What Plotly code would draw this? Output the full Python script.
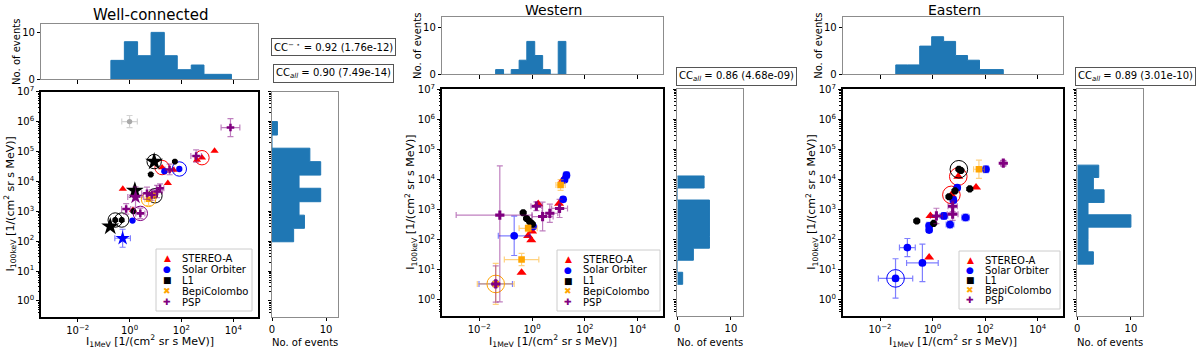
import plotly.graph_objects as go

W, H = 1200, 354
FONT = "DejaVu Sans"
RED, BLUE, BLACK, ORANGE, PURPLE, GREY = "#ff0000", "#0000ff", "#000000", "#ffa500", "#800080", "#a9a9a9"
HIST = "#1f77b4"

# ---------------- Well-connected ----------------
WC_STA_X = [1.9e3, 6.2e2, 4.0e2, 18, 50, 30, 0.55, 1.35]
WC_STA_Y = [1.05e5, 6.2e4, 5.2e4, 2.9e4, 2.4e4, 8.7e3, 5.6e3, 1.1e3]
WC_STA_RING = [0, 1, 0, 1, 0, 0, 0, 0]

WC_SOLO_X = [83, 22, 1.3, 0.54]
WC_SOLO_Y = [2.6e4, 2.2e4, 4.9e2, 1.25e2]
WC_SOLO_EX = [None, None, None, 2.0]
WC_SOLO_EY = [None, None, None, 2.0]
WC_SOLO_RING = [1, 0, 0, 0]
WC_SOLO_STAR = [0, 0, 0, 1]

WC_L1_X = [8.9, 56, 6.6, 1.6, 1.4, 0.28, 0.5, 0.18, 9.5]
WC_L1_Y = [4.6e4, 4.6e4, 1.7e4, 4.9e3, 1.0e3, 5.1e2, 5.1e2, 3.1e2, 3.3e3]
WC_L1_RING = [1, 0, 0, 0, 0, 1, 1, 0, 1]
WC_L1_STAR = [1, 0, 0, 1, 0, 0, 0, 1, 0]

WC_BEPI_X = [5.4, 8.5]
WC_BEPI_Y = [2.5e3, 3.5e3]
WC_BEPI_EX = [1.4, 1.3]
WC_BEPI_EY = [1.6, 1.3]
WC_BEPI_RING = [1, 0]

WC_PSP_X = [7.8e3, 3.7e2, 35, 1.7, 4.7, 11.5, 15, 0.74, 2.6, 7.2]
WC_PSP_Y = [6.3e5, 7.1e4, 2.5e4, 3.0e3, 4.0e3, 4.6e3, 5.9e3, 1.2e3, 8.5e2, 3.5e3]
WC_PSP_EX = [2.3, 1.6, 1.5, 2.0, 1.6, 1.6, 1.4, 1.5, 1.5, 1.5]
WC_PSP_EY = [2.0, 1.6, 1.5, 2.2, 1.6, 1.6, 1.4, 1.5, 1.5, 1.5]
WC_PSP_RING = [0, 0, 0, 0, 0, 0, 0, 0, 1, 0]
WC_PSP_STAR = [0, 0, 0, 1, 0, 0, 0, 0, 0, 0]

WC_GREY_X = [1.0]
WC_GREY_Y = [1.0e6]
WC_GREY_EX = [2.0]
WC_GREY_EY = [1.6]

WC_HX_LOGEDGES = [-0.72, -0.2, 0.31, 0.83, 1.34, 1.84, 2.38, 2.87, 3.41, 3.93]
WC_HX_COUNTS = [4, 8, 5, 10, 5, 2, 3, 1, 1]
WC_HY_LOGEDGES = [1.98, 2.43, 2.87, 3.32, 3.77, 4.21, 4.66, 5.11, 5.55, 6.0]
WC_HY_COUNTS = [4, 6, 5, 9, 5, 9, 7, 0, 1]

# ---------------- Western ----------------
WE_STA_X = [0.4, 0.71, 0.93, 1.0, 1.7, 10.5, 15]
WE_STA_Y = [8.1, 1.35e2, 98, 1.9e2, 1.55e3, 1.6e3, 1.0e4]

WE_SOLO_X = [0.21, 1.1, 15, 20, 17, 0.042]
WE_SOLO_Y = [1.35e2, 2.75e2, 2.2e3, 1.4e4, 9.8e3, 3.4]
WE_SOLO_EX = [4.0, None, 1.2, 1.3, None, 4.3]
WE_SOLO_EY = [4.5, None, 1.2, 1.3, None, 1.0]

WE_L1_X = [0.46, 0.62, 0.81, 1.02]
WE_L1_Y = [7.9e2, 5.1e2, 4.0e2, 3.3e2]

WE_BEPI_X = [0.042, 0.4, 0.71, 12]
WE_BEPI_Y = [3.4, 22, 2.4e2, 6.6e3]
WE_BEPI_EX = [5.0, 4.5, 2.2, 1.5]
WE_BEPI_EY = [4.8, 1.6, 1.3, 1.5]
WE_BEPI_RING = [1, 0, 0, 0]

WE_PSP_X = [0.06, 0.042, 1.45, 2.5, 4.7, 11]
WE_PSP_Y = [6.6e2, 3.4, 1.3e3, 5.9e2, 7.6e2, 1.1e3]
WE_PSP_EX = [(45, 16.6), 1.0, 1.6, 2.5, 2.0, 2.0]
WE_PSP_EY = [(760, 43), 4.0, 1.4, 3.0, 2.0, 2.0]

WE_HX_LOGEDGES = [-1.38, -1.08, -0.79, -0.49, -0.2, 0.10, 0.40, 0.69, 0.99, 1.28]
WE_HX_COUNTS = [1, 0, 1, 3, 7, 4, 1, 0, 7]
WE_HY_LOGEDGES = [0.52, 0.92, 1.32, 1.72, 2.12, 2.52, 2.92, 3.32, 3.72, 4.12]
WE_HY_COUNTS = [1, 0, 3, 6, 6, 6, 6, 0, 5]

# ---------------- Eastern ----------------
EA_STA_X = [0.74, 0.83, 5.2, 9.5, 45]
EA_STA_Y = [26, 6.2e2, 3.1e3, 1.26e4, 5.5e3]
EA_STA_RING = [0, 0, 1, 1, 0]

EA_SOLO_X = [0.039, 0.11, 0.41, 0.74, 0.74, 2.7, 4.6, 6.2, 18, 8.7, 107]
EA_SOLO_Y = [5.2, 55, 17, 2.9e2, 2.1e2, 6.2e2, 3.2e2, 2.1e3, 5.5e2, 5.4e3, 2.2e4]
EA_SOLO_EX = [4.5, 2.0, 4.0, 1.3, 1.2, 1.4, 1.4, 1.3, 1.4, 1.2, 1.3]
EA_SOLO_EY = [4.5, 2.0, 4.2, 1.3, 1.2, 1.3, 1.3, 1.3, 1.3, 1.2, 1.3]
EA_SOLO_RING = [1, 0, 0, 0, 0, 0, 0, 0, 0, 0, 0]

EA_L1_X = [0.25, 1.1, 4.2, 7.1, 10, 12, 26]
EA_L1_Y = [4.2e2, 3.5e2, 2.7e3, 4.2e3, 2.2e4, 2.0e4, 4.9e3]
EA_L1_RING = [0, 0, 0, 0, 1, 0, 0]

EA_BEPI_X = [58]
EA_BEPI_Y = [2.2e4]
EA_BEPI_EX = [1.6]
EA_BEPI_EY = [2.0]

EA_PSP_X = [1.4, 5.8, 5.8, 4.9e2]
EA_PSP_Y = [6.2e2, 1.3e3, 7.1e2, 3.5e4]
EA_PSP_EX = [1.7, 1.5, 1.6, 1.25]
EA_PSP_EY = [1.8, 1.5, 1.6, 1.25]

EA_HX_LOGEDGES = [-1.40, -0.945, -0.49, -0.035, 0.42, 0.875, 1.33, 1.785, 2.24, 2.69]
EA_HX_COUNTS = [2, 2, 6, 8, 7, 4, 3, 1, 1]
EA_HY_LOGEDGES = [1.19, 1.60, 2.01, 2.42, 2.83, 3.24, 3.66, 4.07, 4.48]
EA_HY_COUNTS = [3, 2, 2, 10, 2, 5, 3, 4]

CC_TEXT = {
    0: ["CC<sup>− ⋆</sup> = 0.92 (1.76e-12)", "CC<sub><i>all</i></sub> = 0.90 (7.49e-14)"],
    1: ["CC<sub><i>all</i></sub> = 0.86 (4.68e-09)"],
    2: ["CC<sub><i>all</i></sub> = 0.89 (3.01e-10)"],
}
TITLES = ["Well-connected", "Western", "Eastern"]
LEGEND_LABELS = ["STEREO-A", "Solar Orbiter", "L1", "BepiColombo", "PSP"]
LEGEND_GLYPHS = ["▲", "●", "■", "✖", "✚"]
LEGEND_COLORS = [RED, BLUE, BLACK, ORANGE, PURPLE]

# spacecraft styling: (color, symbol, size)
STYLE = {
    "sta": (RED, "triangle-up", 8),
    "solo": (BLUE, "circle", 7),
    "l1": (BLACK, "octagon", 7),
    "bepi": (ORANGE, "square", 6),
    "psp": (PURPLE, "cross", 7),
    "grey": (GREY, "circle", 6),
}

SERIES = [
    [("sta", WC_STA_X, WC_STA_Y, None, None, WC_STA_RING, None),
     ("solo", WC_SOLO_X, WC_SOLO_Y, WC_SOLO_EX, WC_SOLO_EY, WC_SOLO_RING, WC_SOLO_STAR),
     ("l1", WC_L1_X, WC_L1_Y, None, None, WC_L1_RING, WC_L1_STAR),
     ("bepi", WC_BEPI_X, WC_BEPI_Y, WC_BEPI_EX, WC_BEPI_EY, WC_BEPI_RING, None),
     ("psp", WC_PSP_X, WC_PSP_Y, WC_PSP_EX, WC_PSP_EY, WC_PSP_RING, WC_PSP_STAR),
     ("grey", WC_GREY_X, WC_GREY_Y, WC_GREY_EX, WC_GREY_EY, None, None)],
    [("sta", WE_STA_X, WE_STA_Y, None, None, None, None),
     ("solo", WE_SOLO_X, WE_SOLO_Y, WE_SOLO_EX, WE_SOLO_EY, None, None),
     ("l1", WE_L1_X, WE_L1_Y, None, None, None, None),
     ("bepi", WE_BEPI_X, WE_BEPI_Y, WE_BEPI_EX, WE_BEPI_EY, WE_BEPI_RING, None),
     ("psp", WE_PSP_X, WE_PSP_Y, WE_PSP_EX, WE_PSP_EY, None, None)],
    [("sta", EA_STA_X, EA_STA_Y, None, None, EA_STA_RING, None),
     ("solo", EA_SOLO_X, EA_SOLO_Y, EA_SOLO_EX, EA_SOLO_EY, EA_SOLO_RING, None),
     ("l1", EA_L1_X, EA_L1_Y, None, None, EA_L1_RING, None),
     ("bepi", EA_BEPI_X, EA_BEPI_Y, EA_BEPI_EX, EA_BEPI_EY, None, None),
     ("psp", EA_PSP_X, EA_PSP_Y, EA_PSP_EX, EA_PSP_EY, None, None)],
]
HISTS = [
    (WC_HX_LOGEDGES, WC_HX_COUNTS, WC_HY_LOGEDGES, WC_HY_COUNTS),
    (WE_HX_LOGEDGES, WE_HX_COUNTS, WE_HY_LOGEDGES, WE_HY_COUNTS),
    (EA_HX_LOGEDGES, EA_HX_COUNTS, EA_HY_LOGEDGES, EA_HY_COUNTS),
]

# pixel geometry of each panel: scatter box, top-hist box, right-hist box (x0, y0, x1, y1)
GEOM = [
    dict(sc=(41.4, 91.7, 257.9, 316.5), top=(41.4, 24, 257.9, 79), right=(272, 91.7, 338, 316.5),
         topmax=11.8, title=(150, 15, 15), cc=[(333, 47), (333, 73)], leg=(156, 249, 252, 311),
         msc=0.9),
    dict(sc=(442.3, 89.3, 662.8, 315.6), top=(442.3, 17, 662.8, 74.3), right=(677.3, 89.3, 742.7, 315.6),
         topmax=12.2, title=(553, 10, 14), cc=[(736, 77)], leg=(557, 250, 660, 311), msc=1.1),
    dict(sc=(843.2, 89.3, 1062.7, 315.6), top=(843.2, 17, 1062.7, 74.3), right=(1077.3, 89.3, 1142.7, 315.6),
         topmax=12.2, title=(954, 10, 14), cc=[(1135, 77)], leg=(959, 251, 1060, 309), msc=1.1),
]
XR = [-3.4, 4.95]
YR = [-0.52, 7.0]


def rgba(h, a):
    h = h.lstrip("#")
    return f"rgba({int(h[0:2], 16)},{int(h[2:4], 16)},{int(h[4:6], 16)},{a})"


def err(vals, facs, color):
    plus, minus = [], []
    for v, f in zip(vals, facs):
        f = 1.0 if f is None else f
        lo, hi = f if isinstance(f, tuple) else (f, f)
        plus.append(v * (hi - 1))
        minus.append(v * (1 - 1 / lo))
    return dict(type="data", symmetric=False, array=plus, arrayminus=minus,
                color=rgba(color, 0.5), thickness=1.2, width=3)


def ref(kind, n):
    return kind if n == 1 else f"{kind}{n}"


def add_series(fig, n, msc, key, x, y, ex, ey, ring, star):
    color, symbol, size = STYLE[key]
    m = len(x)
    ex = ex or [None] * m
    ey = ey or [None] * m
    ring = ring or [0] * m
    star = star or [0] * m
    for is_star in (0, 1):
        for has_err in (False, True):
            idx = [i for i in range(m) if star[i] == is_star
                   and ((ex[i] is not None or ey[i] is not None) == has_err)]
            if not idx:
                continue
            xs = [x[i] for i in idx]
            ys = [y[i] for i in idx]
            sz = (15 if key == "l1" else 12) if is_star else size
            tr = go.Scatter(
                x=xs, y=ys, mode="markers", xaxis=ref("x", n), yaxis=ref("y", n),
                marker=dict(symbol="star" if is_star else symbol, size=sz * msc,
                            color=color, line=dict(width=0)),
                showlegend=False, hoverinfo="skip")
            if has_err:
                tr.error_x = err(xs, [ex[i] for i in idx], color)
                tr.error_y = err(ys, [ey[i] for i in idx], color)
            fig.add_trace(tr)
    ridx = [i for i in range(m) if ring[i]]
    if ridx:
        fig.add_trace(go.Scatter(
            x=[x[i] for i in ridx], y=[y[i] for i in ridx], mode="markers",
            xaxis=ref("x", n), yaxis=ref("y", n),
            marker=dict(symbol="circle-open", size=16 * msc, color=color, line=dict(width=1, color=color)),
            showlegend=False, hoverinfo="skip"))


def xdom(a, b):
    return [a / W, b / W]


def ydom(a, b):
    return [1 - b / H, 1 - a / H]


fig = go.Figure()
layout = {}
annotations = []
shapes = []

YTV = [10.0 ** k for k in range(0, 8)]
YTT = [f"10<sup>{k}</sup>" for k in range(0, 8)]
YMINOR = [m * 10.0 ** k for k in range(-1, 7) for m in range(2, 10)]
XTV = [1e-2, 1.0, 1e2, 1e4]
XTT = ["10<sup>−2</sup>", "10<sup>0</sup>", "10<sup>2</sup>", "10<sup>4</sup>"]

tickfont = dict(family=FONT, size=10, color="black")
frame_hist = dict(showline=True, mirror=True, linecolor="#8c8c8c", linewidth=1,
                  ticks="outside", ticklen=3.5, tickcolor="black", tickwidth=1,
                  showgrid=False, zeroline=False, tickfont=tickfont)
frame_sc = dict(showline=True, mirror=True, linecolor="black", linewidth=1.6,
                ticks="outside", ticklen=3.5, tickcolor="black", tickwidth=1,
                showgrid=False, zeroline=False, tickfont=tickfont)


def lab(x, y, text, size=10, angle=0, xanchor="center"):
    annotations.append(dict(x=x / W, y=1 - y / H, xref="paper", yref="paper", text=text,
                            showarrow=False, textangle=angle, xanchor=xanchor, yanchor="middle",
                            font=dict(family=FONT, size=size, color="black")))


for p in range(3):
    g = GEOM[p]
    n1, n2, n3 = 3 * p + 1, 3 * p + 2, 3 * p + 3
    hxe, hxc, hye, hyc = HISTS[p]

    # scatter axes
    layout[f"xaxis{'' if n1 == 1 else n1}"] = dict(
        frame_sc, type="log", range=XR, domain=xdom(g["sc"][0], g["sc"][2]),
        anchor=ref("y", n1), tickmode="array", tickvals=XTV, ticktext=XTT)
    layout[f"yaxis{'' if n1 == 1 else n1}"] = dict(
        frame_sc, type="log", range=YR, domain=ydom(g["sc"][1], g["sc"][3]),
        anchor=ref("x", n1), tickmode="array", tickvals=YTV, ticktext=YTT,
        minor=dict(tickmode="array", tickvals=YMINOR, ticks="outside", ticklen=2, tickcolor="black"))
    # top histogram axes
    layout[f"xaxis{n2}"] = dict(
        frame_hist, type="log", range=XR, domain=xdom(g["top"][0], g["top"][2]),
        anchor=ref("y", n2), tickmode="array", tickvals=XTV, showticklabels=False)
    layout[f"yaxis{n2}"] = dict(
        frame_hist, range=[0, g["topmax"]], domain=ydom(g["top"][1], g["top"][3]),
        anchor=ref("x", n2), tickmode="array", tickvals=[0, 10])
    # right histogram axes
    layout[f"xaxis{n3}"] = dict(
        frame_hist, range=[0, 12.2], domain=xdom(g["right"][0], g["right"][2]),
        anchor=ref("y", n3), tickmode="array", tickvals=[0, 10])
    layout[f"yaxis{n3}"] = dict(
        frame_hist, type="log", range=YR, domain=ydom(g["right"][1], g["right"][3]),
        anchor=ref("x", n3), tickmode="array", tickvals=YTV, showticklabels=False,
        minor=dict(tickmode="array", tickvals=YMINOR, ticks="outside", ticklen=2, tickcolor="black"))

    # top histogram (stepfilled polygon)
    px_, py_ = [10 ** hxe[0]], [0]
    for i, c in enumerate(hxc):
        px_ += [10 ** hxe[i], 10 ** hxe[i + 1]]
        py_ += [c, c]
    px_.append(10 ** hxe[-1])
    py_.append(0)
    fig.add_trace(go.Scatter(x=px_, y=py_, mode="lines", fill="toself", fillcolor=HIST,
                             line=dict(color=HIST, width=1), xaxis=ref("x", n2), yaxis=ref("y", n2),
                             showlegend=False, hoverinfo="skip"))
    # right histogram
    qx, qy = [0], [10 ** hye[0]]
    for i, c in enumerate(hyc):
        qx += [c, c]
        qy += [10 ** hye[i], 10 ** hye[i + 1]]
    qx.append(0)
    qy.append(10 ** hye[-1])
    fig.add_trace(go.Scatter(x=qx, y=qy, mode="lines", fill="toself", fillcolor=HIST,
                             line=dict(color=HIST, width=1), xaxis=ref("x", n3), yaxis=ref("y", n3),
                             showlegend=False, hoverinfo="skip"))

    # scatter points
    for s in SERIES[p]:
        add_series(fig, n1, g["msc"], *s)

    # labels
    tx, ty, ts = g["title"]
    lab(tx, ty, TITLES[p], size=ts)
    sc, top, rt = g["sc"], g["top"], g["right"]
    lab(top[0] - 25, (top[1] + top[3]) / 2, "No. of events", size=10, angle=-90)
    lab(sc[0] - 31, (sc[1] + sc[3]) / 2, "I<sub>100keV</sub> [1/(cm<sup>2</sup> sr s MeV)]", size=11, angle=-90)
    lab((sc[0] + sc[2]) / 2, 341, "I<sub>1MeV</sub> [1/(cm<sup>2</sup> sr s MeV)]", size=11)
    lab((rt[0] + rt[2]) / 2, 342, "No. of events", size=10)

    # correlation boxes
    for (cx, cy), txt in zip(g["cc"], CC_TEXT[p]):
        annotations.append(dict(x=cx / W, y=1 - cy / H, xref="paper", yref="paper", text=txt,
                                showarrow=False, xanchor="center", yanchor="middle",
                                font=dict(family=FONT, size=10, color="black"),
                                bordercolor="#555555", borderwidth=1, borderpad=2, bgcolor="white"))

    # legend box
    x0, y0, x1, y1 = g["leg"]
    shapes.append(dict(type="rect", xref="paper", yref="paper", x0=x0 / W, x1=x1 / W,
                       y0=1 - y1 / H, y1=1 - y0 / H, line=dict(color="#cccccc", width=1),
                       fillcolor="rgba(255,255,255,0.85)", layer="above"))
    step = (y1 - y0 - 18) / 4
    for k, (lb, gl, col) in enumerate(zip(LEGEND_LABELS, LEGEND_GLYPHS, LEGEND_COLORS)):
        yy = y0 + 9 + k * step
        annotations.append(dict(x=(x0 + 11) / W, y=1 - yy / H, xref="paper", yref="paper",
                                text=gl, showarrow=False, xanchor="center", yanchor="middle",
                                font=dict(family=FONT, size=9, color=col)))
        lab(x0 + 24, yy, lb, size=10, xanchor="left")

fig.update_layout(
    width=W, height=H, margin=dict(l=0, r=0, t=0, b=0, autoexpand=False),
    paper_bgcolor="white", plot_bgcolor="white", showlegend=False,
    font=dict(family=FONT, color="black"),
    annotations=annotations, shapes=shapes, **layout)

# the page body has a default 8px margin; drop it so the figure sits at the window origin
fig.write_html("out.html", config={"displayModeBar": False},
               post_script="document.body.style.margin='0';")
